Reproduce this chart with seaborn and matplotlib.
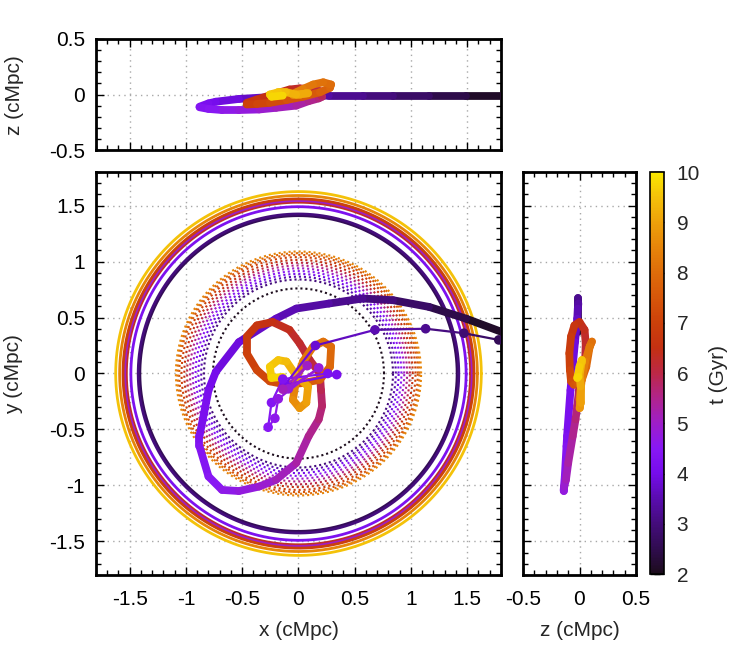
import numpy as np
import seaborn as sns
import matplotlib
matplotlib.use("Agg")
import matplotlib.pyplot as plt
from matplotlib.collections import LineCollection
from matplotlib.colors import LinearSegmentedColormap, Normalize
from matplotlib.ticker import MultipleLocator

# main halo orbit (cMpc) vs time (Gyr)
orbit_t = [2.0, 2.3, 2.6, 2.9, 3.1, 3.3, 3.5, 3.6, 3.8, 3.95, 4.05, 4.2, 4.3, 4.45, 4.6,
           4.7, 4.85, 5.0, 5.2, 5.4, 5.55, 5.7, 5.85, 6.0, 6.1, 6.2, 6.3, 6.45, 6.6, 6.75,
           6.9, 7.05, 7.2, 7.35, 7.5, 7.65, 7.8, 7.95, 8.05, 8.15, 8.3, 8.45, 8.6, 8.75,
           8.9, 9.05, 9.2, 9.35, 9.5, 9.6, 9.7, 9.8]
orbit_x = [1.81, 1.49, 1.16, 0.84, 0.57, 0.27, -0.02, -0.20, -0.53, -0.735, -0.80, -0.88, -0.88,
           -0.80, -0.68, -0.53, -0.35, -0.20, -0.02, 0.09, 0.18, 0.21, 0.20, 0.19, 0.10, 0.01,
           -0.08, -0.23, -0.37, -0.46, -0.46, -0.37, -0.255, -0.107, 0.04, 0.19, 0.28, 0.29,
           0.22, 0.13, 0.04, -0.02, -0.05, 0.01, 0.07, 0.085, -0.02, -0.107, -0.18, -0.255,
           -0.24, -0.14]
orbit_y = [0.37, 0.49, 0.595, 0.655, 0.67, 0.625, 0.58, 0.49, 0.28, 0.015, -0.15, -0.56, -0.65,
           -0.92, -1.04, -1.05, -1.01, -0.95, -0.80, -0.56, -0.41, -0.29, -0.15, 0.0, 0.12, 0.27,
           0.39, 0.46, 0.43, 0.33, 0.18, 0.03, -0.07, -0.10, -0.085, -0.056, 0.06, 0.24, 0.285,
           0.24, 0.107, -0.056, -0.235, -0.31, -0.26, -0.116, -0.02, 0.107, 0.12, 0.06, -0.04,
           -0.03]
orbit_z = [-0.01, -0.01, -0.01, -0.01, -0.01, -0.01, -0.015, -0.02, -0.04, -0.065, -0.08, -0.11,
           -0.115, -0.13, -0.14, -0.14, -0.135, -0.12, -0.10, -0.06, -0.035, -0.02, -0.005, 0.03,
           0.05, 0.055, 0.045, 0.0, -0.045, -0.075, -0.09, -0.085, -0.075, -0.05, -0.02, 0.02,
           0.06, 0.09, 0.11, 0.09, 0.05, 0.02, 0.0, 0.0, 0.01, 0.01, 0.0, 0.02, 0.02, 0.0,
           -0.02, -0.01]

# satellite track (x-y only)
sat_t = [2.6, 2.9, 3.2, 3.5, 3.8, 4.0, 4.1, 4.2, 4.3, 4.4, 4.5, 4.6, 4.7, 4.8, 4.9, 5.0, 5.1]
sat_x = [1.78, 1.47, 1.13, 0.68, 0.15, -0.12, 0.34, 0.26, -0.14, -0.24, -0.27, -0.21, -0.18,
         0.18, -0.09, 0.077, -0.14]
sat_y = [0.30, 0.36, 0.40, 0.39, 0.25, -0.10, -0.01, 0.0, -0.05, -0.26, -0.48, -0.40, -0.226,
         0.05, -0.137, 0.07, -0.14]

# outer radius (solid) and virial radius (dotted) at given times
ring_t = [2.6, 3.0, 4.2, 6.3, 5.0, 7.0, 8.5, 9.5]
ring_r = [1.41, 1.425, 1.49, 1.53, 1.545, 1.56, 1.59, 1.625]
rvir_t = [2.0, 3.0, 3.5, 4.0, 4.5, 5.0, 5.5, 6.0, 6.5, 7.0, 7.5, 8.0, 8.5]
rvir_r = [0.76, 0.84, 0.865, 0.89, 0.915, 0.94, 0.965, 0.99, 1.015, 1.04, 1.06, 1.075, 1.09]

cbar_ticks = [2, 3, 4, 5, 6, 7, 8, 9, 10]

pal_t = [2.0, 2.5, 3.0, 3.5, 4.0, 4.5, 5.0, 5.5, 6.0, 6.5, 7.0, 7.5, 8.0, 8.5, 9.0, 9.5, 10.0]
pal_c = ["#1c0c1c", "#300c50", "#440c7c", "#5a0cb0", "#760cec", "#8818f4", "#9e1ec8",
         "#b0248c", "#bc2846", "#c43012", "#cc400a", "#d6560a", "#de6c0a", "#e6840a",
         "#eea00a", "#f4c00a", "#fae800"]
cmap = LinearSegmentedColormap.from_list(
    "tpal", [((t - 2) / 8, c) for t, c in zip(pal_t, pal_c)])
norm = Normalize(2, 10)

sns.set_theme(style="ticks")
plt.rcParams["font.family"] = ["Liberation Sans", "DejaVu Sans"]
FS = 15

W, H = 747, 654
fig = plt.figure(figsize=(W / 100, H / 100), dpi=100)


def rect(l, t, r, b):
    return [l / W, 1 - b / H, (r - l) / W, (b - t) / H]


ax = fig.add_axes(rect(96, 172, 501, 575))
ax_top = fig.add_axes(rect(96, 39, 501, 150))
ax_side = fig.add_axes(rect(523, 172, 636, 575))
cax = fig.add_axes(rect(650, 172, 664, 574))


def style(a):
    for s in a.spines.values():
        s.set_linewidth(2.0)
        s.set_color("black")
    a.tick_params(which="both", direction="in", top=True, right=True, bottom=True, left=True,
                  color="black", width=1.0, labelsize=FS, labelcolor="black")
    a.tick_params(which="major", length=6)
    a.tick_params(which="minor", length=3.5)
    a.tick_params(axis="x", pad=11)
    a.tick_params(axis="y", pad=8)
    a.grid(True, which="major", color="#a8a8a8", linestyle=(0, (1, 3)), linewidth=1.0)
    a.set_axisbelow(True)
    a.set_facecolor("white")


def colored(a, u, v, t, lw, z):
    pts = np.column_stack([u, v])
    segs = np.stack([pts[:-1], pts[1:]], axis=1)
    tm = (np.array(t[:-1]) + np.array(t[1:])) / 2
    lc = LineCollection(segs, cmap=cmap, norm=norm, linewidths=lw, zorder=z,
                        capstyle="round", joinstyle="round")
    lc.set_array(tm)
    a.add_collection(lc)


theta = np.linspace(0, 2 * np.pi, 400)
for t, r in zip(ring_t, ring_r):
    ax.plot(r * np.cos(theta), r * np.sin(theta), color=cmap(norm(t)), lw=2.0, zorder=2)
for t, r in zip(rvir_t, rvir_r):
    ax.plot(r * np.cos(theta), r * np.sin(theta), color=cmap(norm(t)), lw=1.5,
            linestyle=(0, (1, 1.4)), dash_capstyle="butt", zorder=2.5)

colored(ax, orbit_x, orbit_y, orbit_t, 5.6, 3)
colored(ax, sat_x, sat_y, sat_t, 1.6, 4)
sns.scatterplot(x=sat_x, y=sat_y, hue=sat_t, palette=cmap, hue_norm=norm, s=48,
                edgecolor="none", linewidth=0, legend=False, zorder=5, ax=ax)

colored(ax_top, orbit_x, orbit_z, orbit_t, 5.6, 3)
colored(ax_side, orbit_z, orbit_y, orbit_t, 5.6, 3)

for a in (ax, ax_top, ax_side):
    style(a)

ax.set_xlim(-1.8, 1.8)
ax.set_ylim(-1.8, 1.8)
ax.set_xticks([-1.5, -1, -0.5, 0, 0.5, 1, 1.5], ["-1.5", "-1", "-0.5", "0", "0.5", "1", "1.5"])
ax.set_yticks([-1.5, -1, -0.5, 0, 0.5, 1, 1.5], ["-1.5", "-1", "-0.5", "0", "0.5", "1", "1.5"])
ax.xaxis.set_minor_locator(MultipleLocator(0.1))
ax.yaxis.set_minor_locator(MultipleLocator(0.1))
ax.set_xlabel("")
ax.set_ylabel("")

ax_top.set_xlim(-1.8, 1.8)
ax_top.set_ylim(-0.5, 0.5)
ax_top.xaxis.set_major_locator(MultipleLocator(0.5))
ax_top.xaxis.set_minor_locator(MultipleLocator(0.1))
ax_top.set_yticks([-0.5, 0, 0.5], ["-0.5", "0", "0.5"])
ax_top.yaxis.set_minor_locator(MultipleLocator(0.1))
ax_top.tick_params(axis="x", labelbottom=False)

ax_side.set_xlim(-0.5, 0.5)
ax_side.set_ylim(-1.8, 1.8)
ax_side.set_xticks([-0.5, 0, 0.5], ["-0.5", "0", "0.5"])
ax_side.xaxis.set_minor_locator(MultipleLocator(0.1))
ax_side.yaxis.set_major_locator(MultipleLocator(0.5))
ax_side.yaxis.set_minor_locator(MultipleLocator(0.1))
ax_side.tick_params(axis="y", labelleft=False)

sm = plt.cm.ScalarMappable(cmap=cmap, norm=norm)
cb = fig.colorbar(sm, cax=cax, ticks=cbar_ticks)
cb.outline.set_linewidth(1.2)
cb.outline.set_edgecolor("black")
cax.tick_params(which="major", direction="in", length=7, width=1.0, left=True, right=True,
                labelsize=FS, pad=9, color="black")
cax.minorticks_off()
cax.set_yticklabels([str(v) for v in cbar_ticks])

fig.text(299 / W, 1 - 631 / H, "x (cMpc)", ha="center", va="center", fontsize=FS)
fig.text(580 / W, 1 - 631 / H, "z (cMpc)", ha="center", va="center", fontsize=FS)
fig.text(14 / W, 1 - 374 / H, "y (cMpc)", ha="center", va="center", rotation=90, fontsize=FS)
fig.text(14 / W, 1 - 95 / H, "z (cMpc)", ha="center", va="center", rotation=90, fontsize=FS)
fig.text(718 / W, 1 - 374 / H, "t (Gyr)", ha="center", va="center", rotation=90, fontsize=FS)

fig.savefig("out.png", dpi=100)
